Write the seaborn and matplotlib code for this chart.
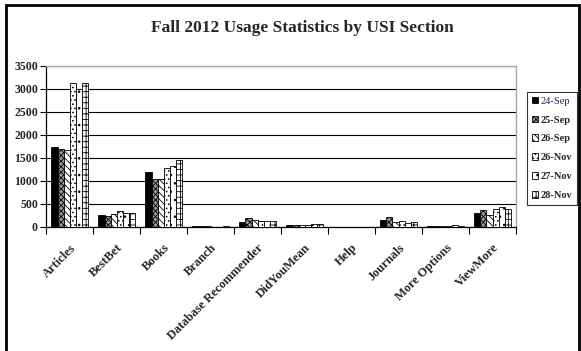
import matplotlib
matplotlib.use("Agg")
import matplotlib.pyplot as plt
from matplotlib.patches import Rectangle, Patch
import numpy as np
import pandas as pd
import seaborn as sns

# Usage counts per USI section, one list per sampled day
sections = ["Articles", "BestBet", "Books", "Branch", "Database Recommender",
            "DidYouMean", "Help", "Journals", "More Options", "ViewMore"]
days = ["24-Sep", "25-Sep", "26-Sep", "26-Nov", "27-Nov", "28-Nov"]

sep24 = [1740, 255, 1190, 20, 100, 30, 0, 140, 15, 300]
sep25 = [1700, 235, 1035, 15, 180, 35, 0, 205, 15, 365]
sep26 = [1680, 275, 1035, 10, 140, 40, 0, 110, 20, 255]
nov26 = [3140, 335, 1275, 0, 135, 45, 0, 125, 25, 380]
nov27 = [3000, 305, 1325, 0, 120, 60, 0, 75, 40, 420]
nov28 = [3140, 305, 1450, 15, 115, 55, 0, 105, 20, 385]

yticks = [0, 500, 1000, 1500, 2000, 2500, 3000, 3500]

series = [sep24, sep25, sep26, nov26, nov27, nov28]
df = pd.DataFrame({
    "Section": np.repeat([sections], len(days), axis=0).ravel(),
    "Day": np.repeat(days, len(sections)),
    "Count": np.concatenate(series),
})

faces = {"24-Sep": "black", "25-Sep": "#9a9a9a", "26-Sep": "white",
         "26-Nov": "white", "27-Nov": "white", "28-Nov": "white"}
hatches = {"24-Sep": "", "25-Sep": "xxxxxx", "26-Sep": "\\\\\\\\\\",
           "26-Nov": "....", "27-Nov": "..", "28-Nov": "+++"}

sns.set_theme(style="white")
plt.rcParams["font.family"] = ["Liberation Serif", "DejaVu Serif"]
plt.rcParams["hatch.linewidth"] = 0.6
plt.rcParams["hatch.color"] = "black"

W, H = 581, 351
fig = plt.figure(figsize=(W / 100, H / 100), dpi=100)
fig.patch.set_facecolor("white")

x0, x1, y0, y1 = 46.3, 516.0, 66.0, 226.7
ax = fig.add_axes([x0 / W, 1 - y1 / H, (x1 - x0) / W, (y1 - y0) / H])

sns.barplot(data=df, x="Section", y="Count", hue="Day", order=sections,
            hue_order=days, palette=faces, width=0.78, gap=0,
            errorbar=None, legend=False, ax=ax, zorder=3)

for cont, day in zip(ax.containers, days):
    for bar in cont:
        bar.set_edgecolor("black")
        bar.set_linewidth(0.6)
        bar.set_hatch(hatches[day])

ax.set_xlim(-0.5, len(sections) - 0.5)
ax.set_ylim(0, 3500)
ax.set_yticks(yticks)
ax.set_yticklabels([str(v) for v in yticks], fontsize=8.5, fontweight="bold")
ax.set_xlabel("")
ax.set_ylabel("")

ax.set_xticks(range(len(sections)))
ax.set_xticklabels(sections, rotation=45, ha="right", rotation_mode="anchor",
                   fontsize=9, fontweight="bold")
ax.set_xticks(np.arange(-0.5, len(sections)), minor=True)
ax.tick_params(axis="x", which="major", length=0, pad=11)
ax.tick_params(axis="x", which="minor", length=5, width=0.8, color="black",
               direction="out", bottom=True)
ax.tick_params(axis="y", length=4, width=0.8, color="black", direction="out",
               left=True, pad=2)

ax.set_axisbelow(True)
ax.yaxis.grid(True, color="black", linewidth=0.8)
ax.xaxis.grid(False)
for side in ("left", "bottom"):
    ax.spines[side].set_color("black")
    ax.spines[side].set_linewidth(0.9)
for side in ("top", "right"):
    ax.spines[side].set_color("#a8a8a8")
    ax.spines[side].set_linewidth(1.0)

fig.text(302 / W, 1 - 28 / H, "Fall 2012 Usage Statistics by USI Section",
         ha="center", va="center", fontsize=12.5, fontweight="bold")

handles = [Patch(facecolor=faces[d], edgecolor="black", hatch=hatches[d],
                 linewidth=0.6) for d in days]
leg = fig.legend(handles, days, loc="upper left",
                 bbox_to_anchor=(527 / W, 1 - 92 / H),
                 bbox_transform=fig.transFigure, frameon=True, fancybox=False,
                 fontsize=7.5, handlelength=0.6, handleheight=0.6,
                 handletextpad=0.25, labelspacing=0.95, borderpad=0.45,
                 borderaxespad=0)
leg.get_frame().set_edgecolor("black")
leg.get_frame().set_linewidth(0.8)
for i, t in enumerate(leg.get_texts()):
    if i == 0:
        t.set_color("#1f2a60")
    else:
        t.set_fontweight("bold")

# chart border
fig.patches.append(Rectangle((6 / W, -0.05), 573 / W, 1.05 - 5 / H,
                             transform=fig.transFigure, fill=False,
                             edgecolor="black", linewidth=2))

fig.savefig("out.png", dpi=100, facecolor="white")
